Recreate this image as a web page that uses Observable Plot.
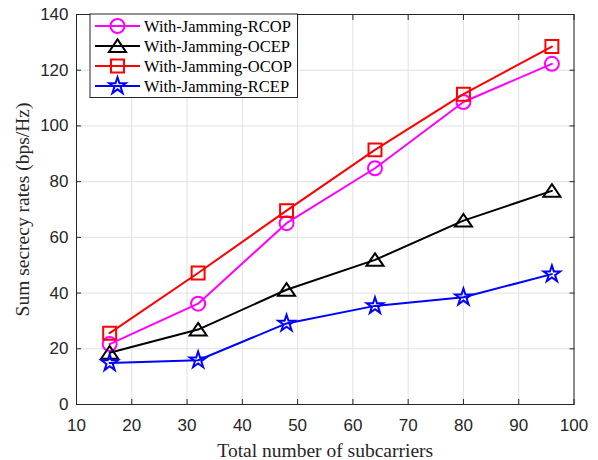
<!DOCTYPE html>
<html><head><meta charset="utf-8">
<script src="https://cdn.jsdelivr.net/npm/d3@7"></script>
<script src="https://cdn.jsdelivr.net/npm/@observablehq/plot@0.6"></script>
<style>body{margin:0;background:#fff} #chart{width:598px;height:460px}</style>
</head><body><div id="chart"></div>
<script>
// ---- data ----
const subcarriers = [16, 32, 48, 64, 80, 96];
const rcop = [21.7, 36.2, 65.1, 84.8, 108.6, 122.3];
const ocep = [18.6, 26.9, 41.2, 51.9, 66.0, 76.7];
const ocop = [25.6, 47.2, 69.6, 91.4, 111.4, 128.5];
const rcep = [14.9, 15.9, 29.1, 35.4, 38.5, 46.8];
const seriesNames = ["With-Jamming-RCOP", "With-Jamming-OCEP", "With-Jamming-OCOP", "With-Jamming-RCEP"];
const seriesValues = [rcop, ocep, ocop, rcep];
const xTicks = [10, 20, 30, 40, 50, 60, 70, 80, 90, 100];
const yTicks = [0, 20, 40, 60, 80, 100, 120, 140];
const xLabel = "Total number of subcarriers";
const yLabel = "Sum secrecy rates (bps/Hz)";

// ---- styles ----
const colors = ["#ff00ff", "#000000", "#ff0000", "#0000ff"];
const triangleSym = {
  draw(ctx, size) {
    const r = Math.sqrt(size / Math.PI);
    ctx.moveTo(0, -0.95 * r);
    ctx.lineTo(1.22 * r, 0.85 * r);
    ctx.lineTo(-1.22 * r, 0.85 * r);
    ctx.closePath();
  }
};
const symbols = ["circle", triangleSym, "square", "star"];
const d3symbols = [d3.symbolCircle, triangleSym, d3.symbolSquare, d3.symbolStar];
const radii = [7, 7, 7.3, 5.2];

const rows = [];
seriesValues.forEach((vals, i) => vals.forEach((v, j) => rows.push({s: i, x: subcarriers[j], y: v})));

const seriesMarks = [];
seriesValues.forEach((vals, i) => {
  const d = rows.filter(r => r.s === i);
  seriesMarks.push(Plot.line(d, {x: "x", y: "y", stroke: colors[i], strokeWidth: 2}));
  seriesMarks.push(Plot.dot(d, {x: "x", y: "y", stroke: colors[i], strokeWidth: 2, fill: "none", symbol: symbols[i], r: radii[i]}));
});

const axisColor = "#262626";
const serif = "'Liberation Serif', 'Times New Roman', serif";

const plot = Plot.plot({
  width: 598, height: 460,
  marginLeft: 76, marginRight: 24.5, marginTop: 14, marginBottom: 56,
  style: {fontFamily: "'Liberation Sans', Arial, sans-serif", fontSize: "17px", color: axisColor, background: "white", overflow: "visible"},
  x: {domain: [10, 100]},
  y: {domain: [0, 140]},
  marks: [
    Plot.gridX(xTicks, {stroke: "#e1e1e1", strokeOpacity: 1}),
    Plot.gridY(yTicks, {stroke: "#e1e1e1", strokeOpacity: 1}),
    ...seriesMarks,
    Plot.frame({stroke: axisColor, strokeWidth: 1}),
    Plot.axisX(xTicks, {anchor: "bottom", tickSize: 0, tickPadding: 14, label: null, fontSize: 17}),
    Plot.axisX(xTicks, {anchor: "bottom", tickSize: 5, dy: -5, text: null, label: null}),
    Plot.axisX(xTicks, {anchor: "top", tickSize: 5, dy: 5, text: null, label: null}),
    Plot.axisY(yTicks, {anchor: "left", tickSize: 0, tickPadding: 8, label: null, fontSize: 17}),
    Plot.axisY(yTicks, {anchor: "left", tickSize: 5, dx: 5, text: null, label: null}),
    Plot.axisY(yTicks, {anchor: "right", tickSize: 5, dx: -5, text: null, label: null}),
    Plot.text([xLabel], {text: d => d, frameAnchor: "bottom", dy: 46, textAnchor: "middle", lineAnchor: "middle", fontFamily: serif, fontSize: 19.5, fill: axisColor}),
    Plot.text([yLabel], {text: d => d, frameAnchor: "left", dx: -54, rotate: -90, textAnchor: "middle", lineAnchor: "middle", fontFamily: serif, fontSize: 19.5, fill: axisColor})
  ]
});
document.getElementById("chart").appendChild(plot);

// ---- legend (northwest, MATLAB style) ----
const svg = d3.select(plot);
const lg = svg.append("g").attr("transform", "translate(90,14)").attr("text-anchor", "start");
lg.append("rect").attr("x", 0).attr("y", 0).attr("width", 207.5).attr("height", 83.5)
  .attr("fill", "white").attr("stroke", axisColor).attr("stroke-width", 1);
seriesNames.forEach((name, i) => {
  const cy = 12 + i * 20;
  lg.append("line").attr("x1", 5).attr("x2", 50).attr("y1", cy).attr("y2", cy)
    .attr("stroke", colors[i]).attr("stroke-width", 2);
  lg.append("path").attr("transform", `translate(27.5,${cy})`)
    .attr("d", d3.symbol(d3symbols[i], Math.PI * radii[i] * radii[i])())
    .attr("fill", "none").attr("stroke", colors[i]).attr("stroke-width", 2);
  lg.append("text").attr("x", 54).attr("y", cy).attr("dy", "0.35em")
    .attr("text-anchor", "start")
    .attr("font-family", serif).attr("font-size", 16.5).attr("fill", "#000")
    .text(name);
});
</script>
</body></html>
